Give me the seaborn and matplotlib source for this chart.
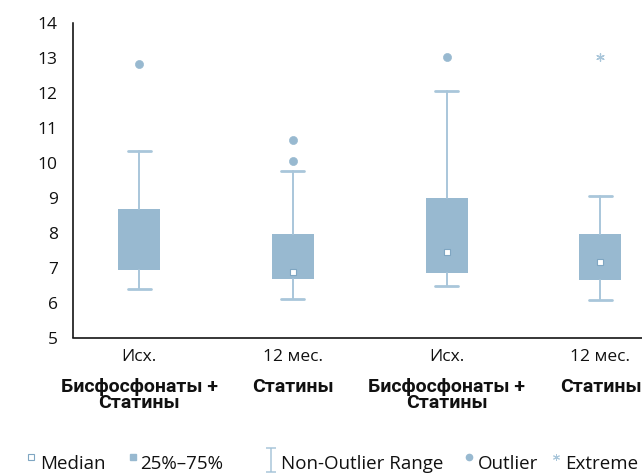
import numpy as np
import pandas as pd
import seaborn as sns
import matplotlib.pyplot as plt
from matplotlib.path import Path
from matplotlib.lines import Line2D
import matplotlib.transforms as mtransforms

# data
time_labels = ["Исх.", "12 мес.", "Исх.", "12 мес."]
group_labels = ["Бисфосфонаты +\nСтатины", "Статины", "Бисфосфонаты +\nСтатины", "Статины"]
q1 = [6.94, 6.67, 6.85, 6.65]
q3 = [8.67, 7.96, 8.98, 7.96]
medians = [None, 6.87, 7.44, 7.15]
whisker_low = [6.40, 6.09, 6.48, 6.08]
whisker_high = [10.35, 9.76, 12.06, 9.06]
outlier_pos = [0, 1, 1, 2]
outlier_val = [12.83, 10.64, 10.04, 13.04]
extreme_pos = [3]
extreme_val = [13.02]
legend_names = ["Median", "25%–75%", "Non-Outlier Range", "Outlier", "Extreme"]

box_color = "#98b9d0"
line_color = "#a9c6da"
med_edge = "#7fa6c2"

sns.set_style("white")
plt.rcParams["font.family"] = ["Open Sans", "DejaVu Sans"]

W, H = 642, 475
fig = plt.figure(figsize=(W / 100, H / 100), dpi=100)
ax = fig.add_axes([73 / W, 137.5 / H, (W - 73) / W, 314.5 / H])

stats = []
for i in range(len(q1)):
    stats.append({
        "med": medians[i] if medians[i] is not None else q1[i],
        "q1": q1[i], "q3": q3[i],
        "whislo": whisker_low[i], "whishi": whisker_high[i],
        "fliers": [],
    })

ax.bxp(stats, positions=range(len(stats)), widths=0.273, patch_artist=True,
       showfliers=False, capwidths=0.15,
       boxprops=dict(facecolor=box_color, edgecolor=box_color, linewidth=0),
       whiskerprops=dict(color=line_color, linewidth=1.4),
       capprops=dict(color=line_color, linewidth=2),
       medianprops=dict(linewidth=0))

# medians as small white squares
med_df = pd.DataFrame({"x": [i for i, m in enumerate(medians) if m is not None],
                       "y": [m for m in medians if m is not None]})
sns.scatterplot(data=med_df, x="x", y="y", marker="s", s=22, color="white",
                edgecolor=med_edge, linewidth=0.8, ax=ax, zorder=5)

out_df = pd.DataFrame({"x": outlier_pos, "y": outlier_val})
sns.scatterplot(data=out_df, x="x", y="y", marker="o", s=34, color=box_color,
                edgecolor=box_color, ax=ax, zorder=5)

ext_df = pd.DataFrame({"x": extreme_pos, "y": extreme_val})
sns.scatterplot(data=ext_df, x="x", y="y", marker=(6, 2, 0), s=30,
                color=line_color, edgecolor=line_color, linewidth=0.9, ax=ax, zorder=5)

ax.set_xlim(-0.43, 3.27)
ax.set_ylim(5, 14)
ax.set_yticks(range(5, 15))
ax.set_xticks(range(len(time_labels)))
ax.set_xticklabels(time_labels)
ax.set_xlabel("")
ax.set_ylabel("")
ax.tick_params(axis="both", length=0, labelsize=12.5, colors="#111111")
ax.tick_params(axis="x", pad=8)
ax.tick_params(axis="y", pad=11)
for side in ["top", "right"]:
    ax.spines[side].set_visible(False)
for side in ["left", "bottom"]:
    ax.spines[side].set_color("black")
    ax.spines[side].set_linewidth(1.1)

trans = mtransforms.blended_transform_factory(ax.transData, ax.transAxes)
for i, lab in enumerate(group_labels):
    ax.text(i, -0.13, lab, transform=trans, ha="center", va="top",
            fontsize=14, fontweight="bold", linespacing=0.85,
            family=["Roboto", "DejaVu Sans"], color="#111111")

# legend, laid out along the bottom edge
ibeam = Path([(-0.45, -1), (0.45, -1), (0, -1), (0, 1), (-0.45, 1), (0.45, 1)],
             [Path.MOVETO, Path.LINETO, Path.MOVETO, Path.LINETO, Path.MOVETO, Path.LINETO])
handles = [
    dict(marker="s", markersize=4, markerfacecolor="white",
         markeredgecolor=med_edge, markeredgewidth=0.8),
    dict(marker="s", markersize=4.5, color=box_color),
    dict(marker=ibeam, markersize=17.5, markeredgewidth=1.1, color=line_color),
    dict(marker="o", markersize=4.5, color=box_color),
    dict(marker=(6, 2, 0), markersize=5, markeredgewidth=0.7, color=line_color),
]
marker_x = [31, 133, 271, 469, 556]
text_x = [40, 140, 281, 478, 565]
marker_y = [457, 457, 460, 457, 457]
for name, hd, mx, tx, my in zip(legend_names, handles, marker_x, text_x, marker_y):
    fig.add_artist(Line2D([mx / W], [1 - my / H], transform=fig.transFigure,
                          linestyle="", **hd))
    fig.text(tx / W, 1 - 469 / H, name, ha="left", va="baseline", fontsize=13.5,
             color="#111111")

fig.savefig("out.png", dpi=100)
